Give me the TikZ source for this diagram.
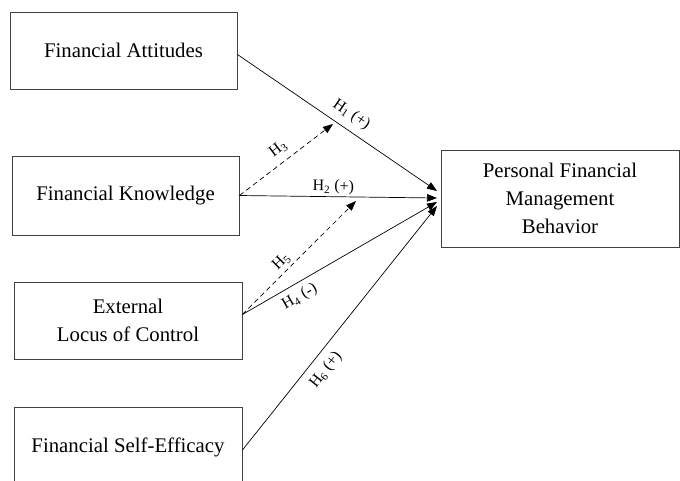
\documentclass[tikz,border=0pt]{standalone}
\usepackage{fontspec}
\setmainfont{Liberation Serif}
\usetikzlibrary{arrows.meta,calc}
\begin{document}
\begin{tikzpicture}[x=1pt,y=-1pt,
  box/.style={draw=black!75,line width=0.9pt,fill=white,inner sep=0pt,
    font=\fontsize{20.8}{28}\selectfont,align=center},
  link/.style={line width=0.7pt,-{Triangle[length=10pt,width=7.5pt]}},
  dlink/.style={link,dashed,dash pattern=on 5pt off 3.5pt},
  hlabel/.style={font=\fontsize{16}{18}\selectfont,inner sep=1pt}]
\clip (0,0) rectangle (680,480);
\fill[white] (0,0) rectangle (680,480);

% predictor boxes
\node[box,minimum width=227pt,minimum height=77pt] (fa) at (123.5,50.5) {Financial Attitudes};
\node[box,minimum width=227pt,minimum height=79pt] (fk) at (125.5,195.5) {Financial Knowledge};
\node[box,minimum width=228pt,minimum height=77pt] (elc) at (128,320.5) {External\\Locus of Control};
\node[box,minimum width=228pt,minimum height=80pt] (fse) at (128,447) {Financial Self-Efficacy};

% outcome box
\node[box,minimum width=238pt,minimum height=97pt] (pfmb) at (560,198.5)
  {Personal Financial\\Management\\Behavior};

% arrow tips on the outcome box and on the moderated paths
\coordinate (t1) at (437,191);
\coordinate (t2) at (437,198);
\coordinate (t4) at (437,202);
\coordinate (t6) at (437,206);
\coordinate (m3) at (333,124);
\coordinate (m5) at (356,201);

% direct effects
\draw[link] ($(fa.east)+(0,4)$) -- node[hlabel,sloped,above=6pt,pos=0.53] {H\textsubscript{1} (+)} (t1);
\draw[link] (fk.east) -- node[hlabel,sloped,above=1pt,pos=0.475] {H\textsubscript{2} (+)} (t2);
\draw[link] ($(elc.east)+(0,-6)$) -- node[hlabel,sloped,below=5pt,pos=0.26] {H\textsubscript{4} (-)} (t4);
\draw[link] ($(fse.east)+(0,3)$) -- node[hlabel,sloped,below=7pt,pos=0.367] {H\textsubscript{6} (+)} (t6);

% moderating effects
\draw[dlink] (fk.east) -- node[hlabel,sloped,above=5pt,pos=0.5] {H\textsubscript{3}} (m3);
\draw[dlink] ($(elc.east)+(0,-6)$) -- node[hlabel,sloped,above=2pt,pos=0.405] {H\textsubscript{5}} (m5);
\end{tikzpicture}
\end{document}
